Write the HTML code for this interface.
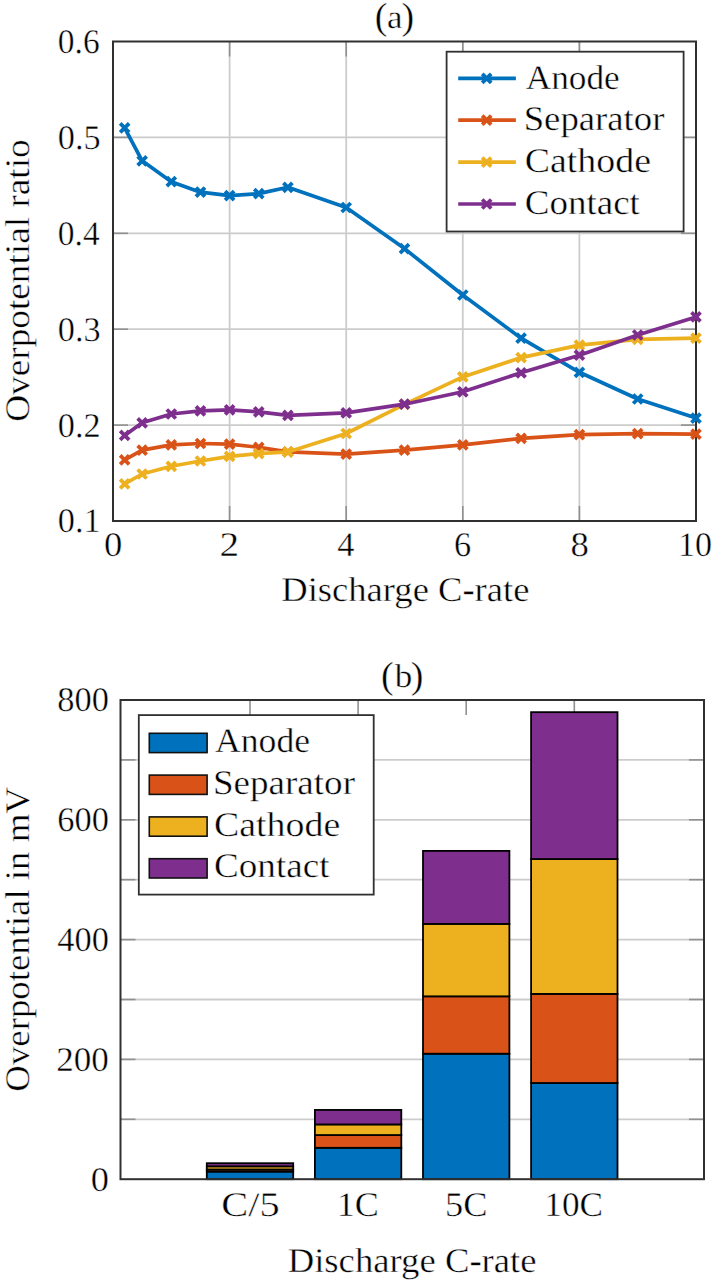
<!DOCTYPE html><html><head><meta charset="utf-8"><style>html,body{margin:0;padding:0;background:#fff;width:713px;height:1280px;overflow:hidden}svg{display:block}text{font-family:"Liberation Serif", serif;fill:#000;text-rendering:geometricPrecision;stroke:#fff;stroke-width:0.4px}</style></head><body>
<svg width="713" height="1280" viewBox="0 0 713 1280">
<g stroke="#cccccc" stroke-width="1.8" fill="none">
<line x1="229.60" y1="41.50" x2="229.60" y2="521.00"/>
<line x1="346.20" y1="41.50" x2="346.20" y2="521.00"/>
<line x1="462.80" y1="41.50" x2="462.80" y2="521.00"/>
<line x1="579.40" y1="41.50" x2="579.40" y2="521.00"/>
<line x1="113.00" y1="425.10" x2="696.00" y2="425.10"/>
<line x1="113.00" y1="329.20" x2="696.00" y2="329.20"/>
<line x1="113.00" y1="233.30" x2="696.00" y2="233.30"/>
<line x1="113.00" y1="137.40" x2="696.00" y2="137.40"/>
</g>
<g stroke="#909090" stroke-width="1.6">
<line x1="229.60" y1="521.00" x2="229.60" y2="506.00"/>
<line x1="229.60" y1="41.50" x2="229.60" y2="56.50"/>
<line x1="346.20" y1="521.00" x2="346.20" y2="506.00"/>
<line x1="346.20" y1="41.50" x2="346.20" y2="56.50"/>
<line x1="462.80" y1="521.00" x2="462.80" y2="506.00"/>
<line x1="462.80" y1="41.50" x2="462.80" y2="56.50"/>
<line x1="579.40" y1="521.00" x2="579.40" y2="506.00"/>
<line x1="579.40" y1="41.50" x2="579.40" y2="56.50"/>
<line x1="113.00" y1="425.10" x2="128.00" y2="425.10"/>
<line x1="696.00" y1="425.10" x2="681.00" y2="425.10"/>
<line x1="113.00" y1="329.20" x2="128.00" y2="329.20"/>
<line x1="696.00" y1="329.20" x2="681.00" y2="329.20"/>
<line x1="113.00" y1="233.30" x2="128.00" y2="233.30"/>
<line x1="696.00" y1="233.30" x2="681.00" y2="233.30"/>
<line x1="113.00" y1="137.40" x2="128.00" y2="137.40"/>
<line x1="696.00" y1="137.40" x2="681.00" y2="137.40"/>
</g>
<rect x="113.00" y="41.50" width="583.00" height="479.50" fill="none" stroke="#303030" stroke-width="2"/>
<polyline points="124.66,127.90 142.15,160.80 171.30,181.70 200.45,192.20 229.60,195.70 258.75,193.60 287.90,187.30 346.20,207.50 404.50,248.60 462.80,295.00 521.10,338.20 579.40,372.30 637.70,399.00 696.00,418.10" fill="none" stroke="#0072BD" stroke-width="3.7" stroke-linejoin="round"/>
<path d="M120.16 123.40L129.16 132.40M120.16 132.40L129.16 123.40" stroke="#0072BD" stroke-width="3.8"/>
<path d="M137.65 156.30L146.65 165.30M137.65 165.30L146.65 156.30" stroke="#0072BD" stroke-width="3.8"/>
<path d="M166.80 177.20L175.80 186.20M166.80 186.20L175.80 177.20" stroke="#0072BD" stroke-width="3.8"/>
<path d="M195.95 187.70L204.95 196.70M195.95 196.70L204.95 187.70" stroke="#0072BD" stroke-width="3.8"/>
<path d="M225.10 191.20L234.10 200.20M225.10 200.20L234.10 191.20" stroke="#0072BD" stroke-width="3.8"/>
<path d="M254.25 189.10L263.25 198.10M254.25 198.10L263.25 189.10" stroke="#0072BD" stroke-width="3.8"/>
<path d="M283.40 182.80L292.40 191.80M283.40 191.80L292.40 182.80" stroke="#0072BD" stroke-width="3.8"/>
<path d="M341.70 203.00L350.70 212.00M341.70 212.00L350.70 203.00" stroke="#0072BD" stroke-width="3.8"/>
<path d="M400.00 244.10L409.00 253.10M400.00 253.10L409.00 244.10" stroke="#0072BD" stroke-width="3.8"/>
<path d="M458.30 290.50L467.30 299.50M458.30 299.50L467.30 290.50" stroke="#0072BD" stroke-width="3.8"/>
<path d="M516.60 333.70L525.60 342.70M516.60 342.70L525.60 333.70" stroke="#0072BD" stroke-width="3.8"/>
<path d="M574.90 367.80L583.90 376.80M574.90 376.80L583.90 367.80" stroke="#0072BD" stroke-width="3.8"/>
<path d="M633.20 394.50L642.20 403.50M633.20 403.50L642.20 394.50" stroke="#0072BD" stroke-width="3.8"/>
<path d="M691.50 413.60L700.50 422.60M691.50 422.60L700.50 413.60" stroke="#0072BD" stroke-width="3.8"/>
<polyline points="124.66,459.90 142.15,450.10 171.30,444.90 200.45,443.50 229.60,444.20 258.75,447.30 287.90,451.90 346.20,454.10 404.50,450.10 462.80,444.80 521.10,438.40 579.40,434.60 637.70,433.60 696.00,434.10" fill="none" stroke="#D95319" stroke-width="3.7" stroke-linejoin="round"/>
<path d="M120.16 455.40L129.16 464.40M120.16 464.40L129.16 455.40" stroke="#D95319" stroke-width="3.8"/>
<path d="M137.65 445.60L146.65 454.60M137.65 454.60L146.65 445.60" stroke="#D95319" stroke-width="3.8"/>
<path d="M166.80 440.40L175.80 449.40M166.80 449.40L175.80 440.40" stroke="#D95319" stroke-width="3.8"/>
<path d="M195.95 439.00L204.95 448.00M195.95 448.00L204.95 439.00" stroke="#D95319" stroke-width="3.8"/>
<path d="M225.10 439.70L234.10 448.70M225.10 448.70L234.10 439.70" stroke="#D95319" stroke-width="3.8"/>
<path d="M254.25 442.80L263.25 451.80M254.25 451.80L263.25 442.80" stroke="#D95319" stroke-width="3.8"/>
<path d="M283.40 447.40L292.40 456.40M283.40 456.40L292.40 447.40" stroke="#D95319" stroke-width="3.8"/>
<path d="M341.70 449.60L350.70 458.60M341.70 458.60L350.70 449.60" stroke="#D95319" stroke-width="3.8"/>
<path d="M400.00 445.60L409.00 454.60M400.00 454.60L409.00 445.60" stroke="#D95319" stroke-width="3.8"/>
<path d="M458.30 440.30L467.30 449.30M458.30 449.30L467.30 440.30" stroke="#D95319" stroke-width="3.8"/>
<path d="M516.60 433.90L525.60 442.90M516.60 442.90L525.60 433.90" stroke="#D95319" stroke-width="3.8"/>
<path d="M574.90 430.10L583.90 439.10M574.90 439.10L583.90 430.10" stroke="#D95319" stroke-width="3.8"/>
<path d="M633.20 429.10L642.20 438.10M633.20 438.10L642.20 429.10" stroke="#D95319" stroke-width="3.8"/>
<path d="M691.50 429.60L700.50 438.60M691.50 438.60L700.50 429.60" stroke="#D95319" stroke-width="3.8"/>
<polyline points="124.66,483.80 142.15,474.00 171.30,466.30 200.45,461.00 229.60,456.40 258.75,453.60 287.90,451.90 346.20,433.50 404.50,404.30 462.80,376.90 521.10,357.60 579.40,345.10 637.70,339.30 696.00,338.20" fill="none" stroke="#EDB120" stroke-width="3.7" stroke-linejoin="round"/>
<path d="M120.16 479.30L129.16 488.30M120.16 488.30L129.16 479.30" stroke="#EDB120" stroke-width="3.8"/>
<path d="M137.65 469.50L146.65 478.50M137.65 478.50L146.65 469.50" stroke="#EDB120" stroke-width="3.8"/>
<path d="M166.80 461.80L175.80 470.80M166.80 470.80L175.80 461.80" stroke="#EDB120" stroke-width="3.8"/>
<path d="M195.95 456.50L204.95 465.50M195.95 465.50L204.95 456.50" stroke="#EDB120" stroke-width="3.8"/>
<path d="M225.10 451.90L234.10 460.90M225.10 460.90L234.10 451.90" stroke="#EDB120" stroke-width="3.8"/>
<path d="M254.25 449.10L263.25 458.10M254.25 458.10L263.25 449.10" stroke="#EDB120" stroke-width="3.8"/>
<path d="M283.40 447.40L292.40 456.40M283.40 456.40L292.40 447.40" stroke="#EDB120" stroke-width="3.8"/>
<path d="M341.70 429.00L350.70 438.00M341.70 438.00L350.70 429.00" stroke="#EDB120" stroke-width="3.8"/>
<path d="M400.00 399.80L409.00 408.80M400.00 408.80L409.00 399.80" stroke="#EDB120" stroke-width="3.8"/>
<path d="M458.30 372.40L467.30 381.40M458.30 381.40L467.30 372.40" stroke="#EDB120" stroke-width="3.8"/>
<path d="M516.60 353.10L525.60 362.10M516.60 362.10L525.60 353.10" stroke="#EDB120" stroke-width="3.8"/>
<path d="M574.90 340.60L583.90 349.60M574.90 349.60L583.90 340.60" stroke="#EDB120" stroke-width="3.8"/>
<path d="M633.20 334.80L642.20 343.80M633.20 343.80L642.20 334.80" stroke="#EDB120" stroke-width="3.8"/>
<path d="M691.50 333.70L700.50 342.70M691.50 342.70L700.50 333.70" stroke="#EDB120" stroke-width="3.8"/>
<polyline points="124.66,435.40 142.15,422.80 171.30,414.00 200.45,410.90 229.60,409.80 258.75,411.90 287.90,415.40 346.20,412.80 404.50,404.20 462.80,391.80 521.10,372.80 579.40,355.20 637.70,335.00 696.00,316.90" fill="none" stroke="#7E2F8E" stroke-width="3.7" stroke-linejoin="round"/>
<path d="M120.16 430.90L129.16 439.90M120.16 439.90L129.16 430.90" stroke="#7E2F8E" stroke-width="3.8"/>
<path d="M137.65 418.30L146.65 427.30M137.65 427.30L146.65 418.30" stroke="#7E2F8E" stroke-width="3.8"/>
<path d="M166.80 409.50L175.80 418.50M166.80 418.50L175.80 409.50" stroke="#7E2F8E" stroke-width="3.8"/>
<path d="M195.95 406.40L204.95 415.40M195.95 415.40L204.95 406.40" stroke="#7E2F8E" stroke-width="3.8"/>
<path d="M225.10 405.30L234.10 414.30M225.10 414.30L234.10 405.30" stroke="#7E2F8E" stroke-width="3.8"/>
<path d="M254.25 407.40L263.25 416.40M254.25 416.40L263.25 407.40" stroke="#7E2F8E" stroke-width="3.8"/>
<path d="M283.40 410.90L292.40 419.90M283.40 419.90L292.40 410.90" stroke="#7E2F8E" stroke-width="3.8"/>
<path d="M341.70 408.30L350.70 417.30M341.70 417.30L350.70 408.30" stroke="#7E2F8E" stroke-width="3.8"/>
<path d="M400.00 399.70L409.00 408.70M400.00 408.70L409.00 399.70" stroke="#7E2F8E" stroke-width="3.8"/>
<path d="M458.30 387.30L467.30 396.30M458.30 396.30L467.30 387.30" stroke="#7E2F8E" stroke-width="3.8"/>
<path d="M516.60 368.30L525.60 377.30M516.60 377.30L525.60 368.30" stroke="#7E2F8E" stroke-width="3.8"/>
<path d="M574.90 350.70L583.90 359.70M574.90 359.70L583.90 350.70" stroke="#7E2F8E" stroke-width="3.8"/>
<path d="M633.20 330.50L642.20 339.50M633.20 339.50L642.20 330.50" stroke="#7E2F8E" stroke-width="3.8"/>
<path d="M691.50 312.40L700.50 321.40M691.50 321.40L700.50 312.40" stroke="#7E2F8E" stroke-width="3.8"/>
<rect x="446.6" y="51.7" width="237" height="179.8" fill="#fff" stroke="#303030" stroke-width="1.8"/>
<line x1="458.20" y1="78.30" x2="515.90" y2="78.30" stroke="#0072BD" stroke-width="3.7"/>
<path d="M482.20 73.80L491.20 82.80M482.20 82.80L491.20 73.80" stroke="#0072BD" stroke-width="3.8"/>
<text x="525.80" y="88.60" font-size="34.5" textLength="93.92" lengthAdjust="spacingAndGlyphs">Anode</text>
<line x1="458.20" y1="120.20" x2="515.90" y2="120.20" stroke="#D95319" stroke-width="3.7"/>
<path d="M482.20 115.70L491.20 124.70M482.20 124.70L491.20 115.70" stroke="#D95319" stroke-width="3.8"/>
<text x="523.70" y="130.40" font-size="34.5" textLength="140.71" lengthAdjust="spacingAndGlyphs">Separator</text>
<line x1="458.20" y1="162.10" x2="515.90" y2="162.10" stroke="#EDB120" stroke-width="3.7"/>
<path d="M482.20 157.60L491.20 166.60M482.20 166.60L491.20 157.60" stroke="#EDB120" stroke-width="3.8"/>
<text x="524.72" y="172.20" font-size="34.5" textLength="126.26" lengthAdjust="spacingAndGlyphs">Cathode</text>
<line x1="458.20" y1="204.00" x2="515.90" y2="204.00" stroke="#7E2F8E" stroke-width="3.7"/>
<path d="M482.20 199.50L491.20 208.50M482.20 208.50L491.20 199.50" stroke="#7E2F8E" stroke-width="3.8"/>
<text x="524.74" y="214.00" font-size="34.5" textLength="115.13" lengthAdjust="spacingAndGlyphs">Contact</text>
<text x="57.82" y="532.40" font-size="34.5" textLength="42.79" lengthAdjust="spacingAndGlyphs">0.1</text>
<text x="57.82" y="436.50" font-size="34.5" textLength="42.79" lengthAdjust="spacingAndGlyphs">0.2</text>
<text x="57.82" y="340.60" font-size="34.5" textLength="42.79" lengthAdjust="spacingAndGlyphs">0.3</text>
<text x="57.85" y="244.70" font-size="34.5" textLength="41.77" lengthAdjust="spacingAndGlyphs">0.4</text>
<text x="57.82" y="148.80" font-size="34.5" textLength="42.79" lengthAdjust="spacingAndGlyphs">0.5</text>
<text x="57.85" y="52.90" font-size="34.5" textLength="41.77" lengthAdjust="spacingAndGlyphs">0.6</text>
<text x="104.10" y="555.50" font-size="34.5" textLength="18.32" lengthAdjust="spacingAndGlyphs">0</text>
<text x="219.51" y="555.50" font-size="34.5" textLength="19.62" lengthAdjust="spacingAndGlyphs">2</text>
<text x="337.37" y="555.50" font-size="34.5" textLength="17.17" lengthAdjust="spacingAndGlyphs">4</text>
<text x="453.97" y="555.50" font-size="34.5" textLength="17.17" lengthAdjust="spacingAndGlyphs">6</text>
<text x="570.50" y="555.50" font-size="34.5" textLength="18.32" lengthAdjust="spacingAndGlyphs">8</text>
<text x="678.04" y="555.50" font-size="34.5" textLength="33.98" lengthAdjust="spacingAndGlyphs">10</text>
<text x="281.25" y="600.50" font-size="34.5" textLength="248.16" lengthAdjust="spacingAndGlyphs">Discharge C-rate</text>
<text x="374.7" y="29.2" font-size="38">(</text><text x="401.4" y="29.2" font-size="38">)</text><text x="387.0" y="28.4" font-size="33" textLength="15.5" lengthAdjust="spacingAndGlyphs">a</text>
<text transform="translate(28.6,421.87) rotate(-90)" font-size="34.5" textLength="282.58" lengthAdjust="spacingAndGlyphs">Overpotential ratio</text>
<g stroke="#cccccc" stroke-width="1.8" fill="none">
<line x1="120.50" y1="1119.30" x2="704.00" y2="1119.30"/>
<line x1="120.50" y1="1059.40" x2="704.00" y2="1059.40"/>
<line x1="120.50" y1="999.50" x2="704.00" y2="999.50"/>
<line x1="120.50" y1="939.60" x2="704.00" y2="939.60"/>
<line x1="120.50" y1="879.70" x2="704.00" y2="879.70"/>
<line x1="120.50" y1="819.80" x2="704.00" y2="819.80"/>
<line x1="120.50" y1="759.90" x2="704.00" y2="759.90"/>
</g>
<g stroke="#909090" stroke-width="1.6">
<line x1="250.00" y1="1179.20" x2="250.00" y2="1164.20"/>
<line x1="250.00" y1="700.00" x2="250.00" y2="715.00"/>
<line x1="358.10" y1="1179.20" x2="358.10" y2="1164.20"/>
<line x1="358.10" y1="700.00" x2="358.10" y2="715.00"/>
<line x1="466.20" y1="1179.20" x2="466.20" y2="1164.20"/>
<line x1="466.20" y1="700.00" x2="466.20" y2="715.00"/>
<line x1="574.30" y1="1179.20" x2="574.30" y2="1164.20"/>
<line x1="574.30" y1="700.00" x2="574.30" y2="715.00"/>
<line x1="120.50" y1="1119.30" x2="135.50" y2="1119.30"/>
<line x1="704.00" y1="1119.30" x2="689.00" y2="1119.30"/>
<line x1="120.50" y1="1059.40" x2="135.50" y2="1059.40"/>
<line x1="704.00" y1="1059.40" x2="689.00" y2="1059.40"/>
<line x1="120.50" y1="999.50" x2="135.50" y2="999.50"/>
<line x1="704.00" y1="999.50" x2="689.00" y2="999.50"/>
<line x1="120.50" y1="939.60" x2="135.50" y2="939.60"/>
<line x1="704.00" y1="939.60" x2="689.00" y2="939.60"/>
<line x1="120.50" y1="879.70" x2="135.50" y2="879.70"/>
<line x1="704.00" y1="879.70" x2="689.00" y2="879.70"/>
<line x1="120.50" y1="819.80" x2="135.50" y2="819.80"/>
<line x1="704.00" y1="819.80" x2="689.00" y2="819.80"/>
<line x1="120.50" y1="759.90" x2="135.50" y2="759.90"/>
<line x1="704.00" y1="759.90" x2="689.00" y2="759.90"/>
</g>
<rect x="206.80" y="1171.59" width="86.40" height="7.61" fill="#0072BD" stroke="#000" stroke-width="1.8"/>
<rect x="206.80" y="1169.50" width="86.40" height="2.10" fill="#D95319" stroke="#000" stroke-width="1.8"/>
<rect x="206.80" y="1166.32" width="86.40" height="3.17" fill="#EDB120" stroke="#000" stroke-width="1.8"/>
<rect x="206.80" y="1163.21" width="86.40" height="3.11" fill="#7E2F8E" stroke="#000" stroke-width="1.8"/>
<rect x="314.90" y="1147.81" width="86.40" height="31.39" fill="#0072BD" stroke="#000" stroke-width="1.8"/>
<rect x="314.90" y="1135.05" width="86.40" height="12.76" fill="#D95319" stroke="#000" stroke-width="1.8"/>
<rect x="314.90" y="1124.42" width="86.40" height="10.63" fill="#EDB120" stroke="#000" stroke-width="1.8"/>
<rect x="314.90" y="1109.93" width="86.40" height="14.50" fill="#7E2F8E" stroke="#000" stroke-width="1.8"/>
<rect x="423.00" y="1053.71" width="86.40" height="125.49" fill="#0072BD" stroke="#000" stroke-width="1.8"/>
<rect x="423.00" y="996.33" width="86.40" height="57.38" fill="#D95319" stroke="#000" stroke-width="1.8"/>
<rect x="423.00" y="923.91" width="86.40" height="72.42" fill="#EDB120" stroke="#000" stroke-width="1.8"/>
<rect x="423.00" y="850.89" width="86.40" height="73.02" fill="#7E2F8E" stroke="#000" stroke-width="1.8"/>
<rect x="531.10" y="1083.00" width="86.40" height="96.20" fill="#0072BD" stroke="#000" stroke-width="1.8"/>
<rect x="531.10" y="993.93" width="86.40" height="89.07" fill="#D95319" stroke="#000" stroke-width="1.8"/>
<rect x="531.10" y="859.03" width="86.40" height="134.89" fill="#EDB120" stroke="#000" stroke-width="1.8"/>
<rect x="531.10" y="712.16" width="86.40" height="146.87" fill="#7E2F8E" stroke="#000" stroke-width="1.8"/>
<rect x="120.50" y="700.00" width="583.50" height="479.20" fill="none" stroke="#303030" stroke-width="2"/>
<rect x="138.8" y="715.1" width="234.9" height="179.5" fill="#fff" stroke="#303030" stroke-width="1.8"/>
<rect x="149.3" y="733.30" width="57.8" height="19.3" fill="#0072BD" stroke="#111" stroke-width="1.6"/>
<text x="215.10" y="752.20" font-size="34.5" textLength="94.94" lengthAdjust="spacingAndGlyphs">Anode</text>
<rect x="149.3" y="775.10" width="57.8" height="19.3" fill="#D95319" stroke="#111" stroke-width="1.6"/>
<text x="212.98" y="793.90" font-size="34.5" textLength="142.03" lengthAdjust="spacingAndGlyphs">Separator</text>
<rect x="149.3" y="816.90" width="57.8" height="19.3" fill="#EDB120" stroke="#111" stroke-width="1.6"/>
<text x="214.02" y="835.60" font-size="34.5" textLength="126.26" lengthAdjust="spacingAndGlyphs">Cathode</text>
<rect x="149.3" y="858.70" width="57.8" height="19.3" fill="#7E2F8E" stroke="#111" stroke-width="1.6"/>
<text x="214.04" y="877.30" font-size="34.5" textLength="115.43" lengthAdjust="spacingAndGlyphs">Contact</text>
<text x="90.76" y="1190.60" font-size="34.5" textLength="18.20" lengthAdjust="spacingAndGlyphs">0</text>
<text x="56.30" y="1070.80" font-size="34.5" textLength="52.61" lengthAdjust="spacingAndGlyphs">200</text>
<text x="57.32" y="951.00" font-size="34.5" textLength="51.55" lengthAdjust="spacingAndGlyphs">400</text>
<text x="57.32" y="831.20" font-size="34.5" textLength="51.55" lengthAdjust="spacingAndGlyphs">600</text>
<text x="57.32" y="711.40" font-size="34.5" textLength="51.55" lengthAdjust="spacingAndGlyphs">800</text>
<text x="221.25" y="1215.50" font-size="34.5" textLength="58.38" lengthAdjust="spacingAndGlyphs">C/5</text>
<text x="336.71" y="1215.50" font-size="34.5" textLength="42.11" lengthAdjust="spacingAndGlyphs">1C</text>
<text x="445.02" y="1215.50" font-size="34.5" textLength="42.41" lengthAdjust="spacingAndGlyphs">5C</text>
<text x="544.38" y="1215.50" font-size="34.5" textLength="58.68" lengthAdjust="spacingAndGlyphs">10C</text>
<text x="287.65" y="1271.50" font-size="34.5" textLength="248.97" lengthAdjust="spacingAndGlyphs">Discharge C-rate</text>
<text x="381.1" y="688.3" font-size="38">(</text><text x="410.7" y="688.3" font-size="38">)</text><text x="394.7" y="687.4" font-size="33" textLength="17.5" lengthAdjust="spacingAndGlyphs">b</text>
<text transform="translate(28.6,1091.65) rotate(-90)" font-size="34.5" textLength="304.49" lengthAdjust="spacingAndGlyphs">Overpotential in mV</text>
</svg></body></html>
